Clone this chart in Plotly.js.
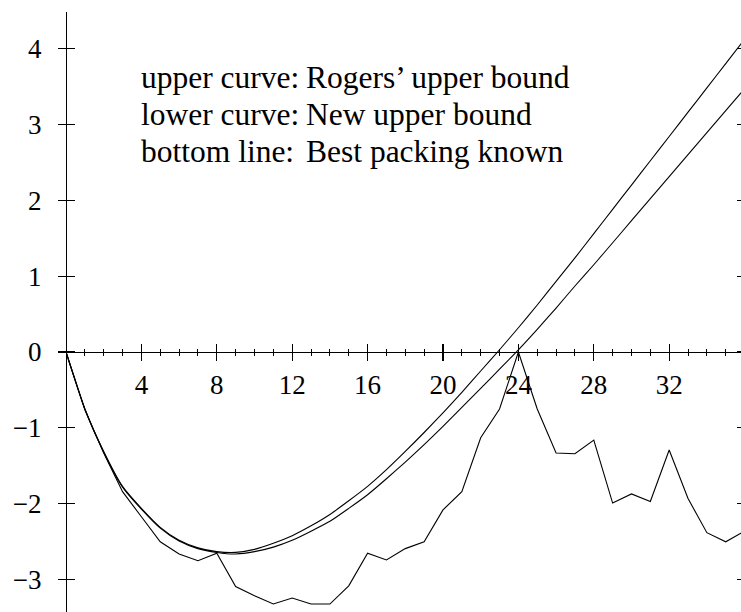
<!DOCTYPE html>
<html>
<head>
<meta charset="utf-8">
<script src="https://cdn.plot.ly/plotly-3.0.1.min.js"></script>
<style>html,body{margin:0;padding:0;background:#fff;}#chart{width:741px;height:612px;}</style>
</head>
<body>
<div id="chart"></div>
<script>
// Dimension n
const dims = [0,1,2,3,4,5,6,7,8,9,10,11,12,13,14,15,16,17,18,19,20,21,22,23,24,25,26,27,28,29,30,31,32,33,34,35,36];
// upper curve: Rogers' upper bound
const rogers = [0,-0.75,-1.31,-1.77,-2.06,-2.31,-2.48,-2.58,-2.63,-2.64,-2.60,-2.52,-2.42,-2.29,-2.14,-1.96,-1.77,-1.55,-1.31,-1.06,-0.80,-0.53,-0.25,0.03,0.32,0.62,0.93,1.24,1.56,1.88,2.20,2.52,2.84,3.16,3.48,3.80,4.12];
// lower curve: New upper bound
const newBound = [0,-0.75,-1.32,-1.78,-2.07,-2.32,-2.49,-2.59,-2.64,-2.66,-2.63,-2.57,-2.48,-2.36,-2.23,-2.06,-1.88,-1.67,-1.45,-1.22,-0.98,-0.73,-0.48,-0.225,0.03,0.30,0.58,0.87,1.15,1.44,1.73,2.02,2.31,2.60,2.89,3.18,3.47];
// bottom line: Best packing known
const best = [0,-0.76,-1.33,-1.84,-2.17,-2.50,-2.66,-2.75,-2.65,-3.09,-3.21,-3.32,-3.24,-3.32,-3.32,-3.08,-2.65,-2.74,-2.59,-2.50,-2.08,-1.84,-1.13,-0.75,0,-0.75,-1.33,-1.34,-1.16,-1.99,-1.87,-1.97,-1.29,-1.93,-2.38,-2.50,-2.36];

const xTickVals = [4,8,12,16,20,24,28,32];
const yTickVals = [-3,-2,-1,0,1,2,3,4];
const legendLabels = ["upper curve:","lower curve:","bottom line:"];
const legendTexts = ["Rogers\u2019 upper bound","New upper bound","Best packing known"];

const XR = [0, 35.81];
const YR = [-3.425, 4.48];
const XPOS = (0 - YR[0]) / (YR[1] - YR[0]);

const lineStyle = {color:'#000', width:1.1};
const traces = [
  {x:dims, y:rogers, xaxis:'x', yaxis:'y', mode:'lines', line:Object.assign({shape:'spline', smoothing:0.6}, lineStyle), hoverinfo:'skip'},
  {x:dims, y:newBound, xaxis:'x2', yaxis:'y2', mode:'lines', line:Object.assign({shape:'spline', smoothing:0.6}, lineStyle), hoverinfo:'skip'},
  {x:dims, y:best, xaxis:'x', yaxis:'y3', mode:'lines', line:lineStyle, hoverinfo:'skip'}
];

const tickFont = {family:'Liberation Serif', size:27, color:'#000'};
const annFont = {family:'Liberation Serif', size:31.5, color:'#000'};
const rowY = [3.623, 3.136, 2.648];
const annotations = [];
for (let i = 0; i < 3; i++) {
  annotations.push({x:3.87, y:rowY[i], xref:'x', yref:'y', text:legendLabels[i], showarrow:false, xanchor:'left', yanchor:'middle', font:annFont});
  annotations.push({x:12.6, y:rowY[i], xref:'x', yref:'y', text:legendTexts[i], showarrow:false, xanchor:'left', yanchor:'middle', font:annFont});
}

const baseX = {range:XR, anchor:'free', position:XPOS, showgrid:false, zeroline:false, fixedrange:true,
  tickmode:'array', tickvals:xTickVals, tickwidth:1.1, tickcolor:'#000', tickfont:tickFont};
const baseY = {range:YR, showgrid:false, zeroline:false, fixedrange:true,
  tickmode:'array', tickvals:yTickVals, tickwidth:1.1, tickcolor:'#000', tickfont:tickFont};

const layout = {
  width:741, height:612,
  margin:{l:66, r:0, t:12, b:0, pad:0},
  paper_bgcolor:'#fff', plot_bgcolor:'#fff',
  showlegend:false, hovermode:false,
  font:{family:'Liberation Serif', size:27, color:'#000'},
  xaxis:Object.assign({}, baseX, {showline:true, linecolor:'#000', linewidth:1.1, ticks:'outside', ticklen:8,
    ticklabelstandoff:0,
    minor:{tickmode:'linear', tick0:0, dtick:1, ticks:'outside', ticklen:3, tickwidth:1, tickcolor:'#000', showgrid:false}}),
  xaxis2:Object.assign({}, baseX, {overlaying:'x', showline:false, ticks:'inside', ticklen:8, showticklabels:false,
    minor:{tickmode:'linear', tick0:0, dtick:1, ticks:'inside', ticklen:3, tickwidth:1, tickcolor:'#000', showgrid:false}}),
  yaxis:Object.assign({}, baseY, {anchor:'free', position:0, side:'left', showline:true, linecolor:'#000', linewidth:1.1,
    ticks:'outside', ticklen:8, ticklabelstandoff:11}),
  yaxis2:Object.assign({}, baseY, {overlaying:'y', anchor:'free', position:0, side:'left', showline:false, ticks:'inside', ticklen:8, showticklabels:false}),
  yaxis3:Object.assign({}, baseY, {overlaying:'y', anchor:'free', position:1, side:'right', showline:false, ticks:'inside', ticklen:4, showticklabels:false}),
  annotations:annotations
};

Plotly.newPlot('chart', traces, layout, {staticPlot:true, displayModeBar:false});
</script>
</body>
</html>
